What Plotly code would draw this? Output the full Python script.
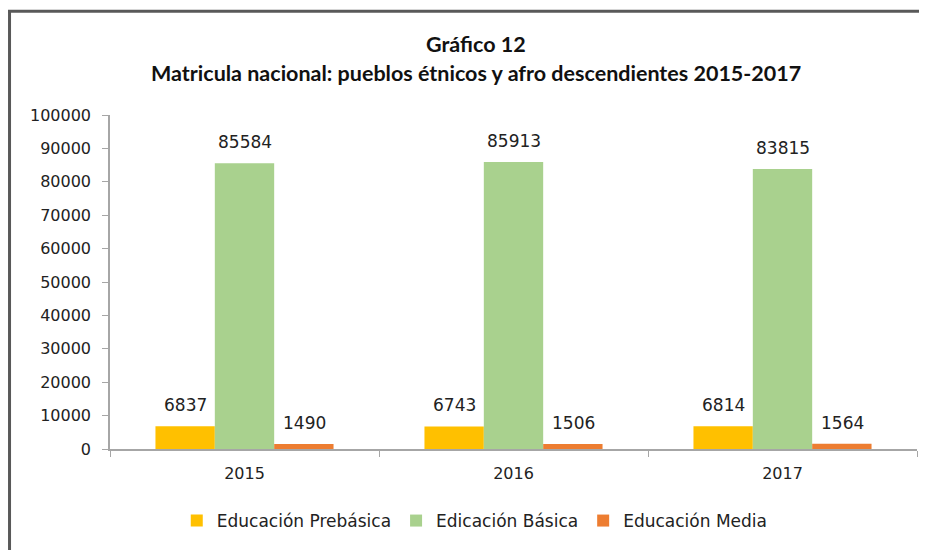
import plotly.graph_objects as go

years = ["2015", "2016", "2017"]
series_names = ["Educación Prebásica", "Edicación Básica", "Educación Media"]
prebasica = [6837, 6743, 6814]
basica = [85584, 85913, 83815]
media = [1490, 1506, 1564]
colors = ["#FFC000", "#A9D18E", "#ED7D31"]
y_ticks = list(range(0, 100001, 10000))
y_ticktext = [str(v) for v in y_ticks]

font_main = "DejaVu Sans"

fig = go.Figure()
for name, vals, col in zip(series_names, [prebasica, basica, media], colors):
    fig.add_trace(go.Bar(
        name=name, x=years, y=vals, marker=dict(color=col, line=dict(width=0)),
    ))

# data labels
shifts = [-59.5, 0, 59.5]
for vals, xs in zip([prebasica, basica, media], shifts):
    for i, v in enumerate(vals):
        fig.add_annotation(x=i, y=v, text=str(v), showarrow=False, xref="x", yref="y",
                           xshift=xs, yshift=9, yanchor="bottom",
                           font=dict(family=font_main, size=17, color="#222222"))

title_font = dict(family="Lato", size=21.5, color="#111111", weight="bold")
fig.add_annotation(text="Gráfico 12", xref="paper", yref="paper", x=0.4535, y=1.2126,
                   xanchor="center", yanchor="middle", showarrow=False, font=title_font)
fig.add_annotation(text="Matricula nacional: pueblos étnicos y afro descendientes 2015-2017",
                   xref="paper", yref="paper", x=0.4535, y=1.1257,
                   xanchor="center", yanchor="middle", showarrow=False, font=title_font)

fig.update_layout(
    width=927, height=550,
    paper_bgcolor="white", plot_bgcolor="white",
    margin=dict(l=102, r=18, t=107, b=109, autoexpand=False),
    barmode="group", bargap=0.338, bargroupgap=0,
    xaxis=dict(type="category", range=[-0.5, 2.5], autorange=False, showline=True,
               linecolor="#A6A6A6", linewidth=1.5, ticks="outside",
               tickson="boundaries", ticklen=6, tickcolor="#A6A6A6", ticklabelstandoff=9,
               tickfont=dict(family=font_main, size=16, color="#222222"), showgrid=False, tickangle=0),
    yaxis=dict(range=[0, 100000], autorange=False, tickvals=y_ticks, ticktext=y_ticktext, showline=True,
               linecolor="#A6A6A6", linewidth=1.5,
               ticks="outside", ticklen=6, tickcolor="#A6A6A6", showgrid=False, zeroline=False,
               tickfont=dict(family=font_main, size=16, color="#222222"), ticklabelstandoff=8),
    legend=dict(orientation="h", x=0.452, xanchor="center", y=-0.2156, yanchor="middle",
                font=dict(family=font_main, size=17, color="#222222"),
                traceorder="normal"),
    shapes=[dict(type="rect", xref="paper", yref="paper", x0=-0.1245, x1=1.2, y0=-0.6, y1=1.311,
                 line=dict(color="#595959", width=3), fillcolor="rgba(0,0,0,0)", layer="below")],
)

fig.write_html("out.html")
